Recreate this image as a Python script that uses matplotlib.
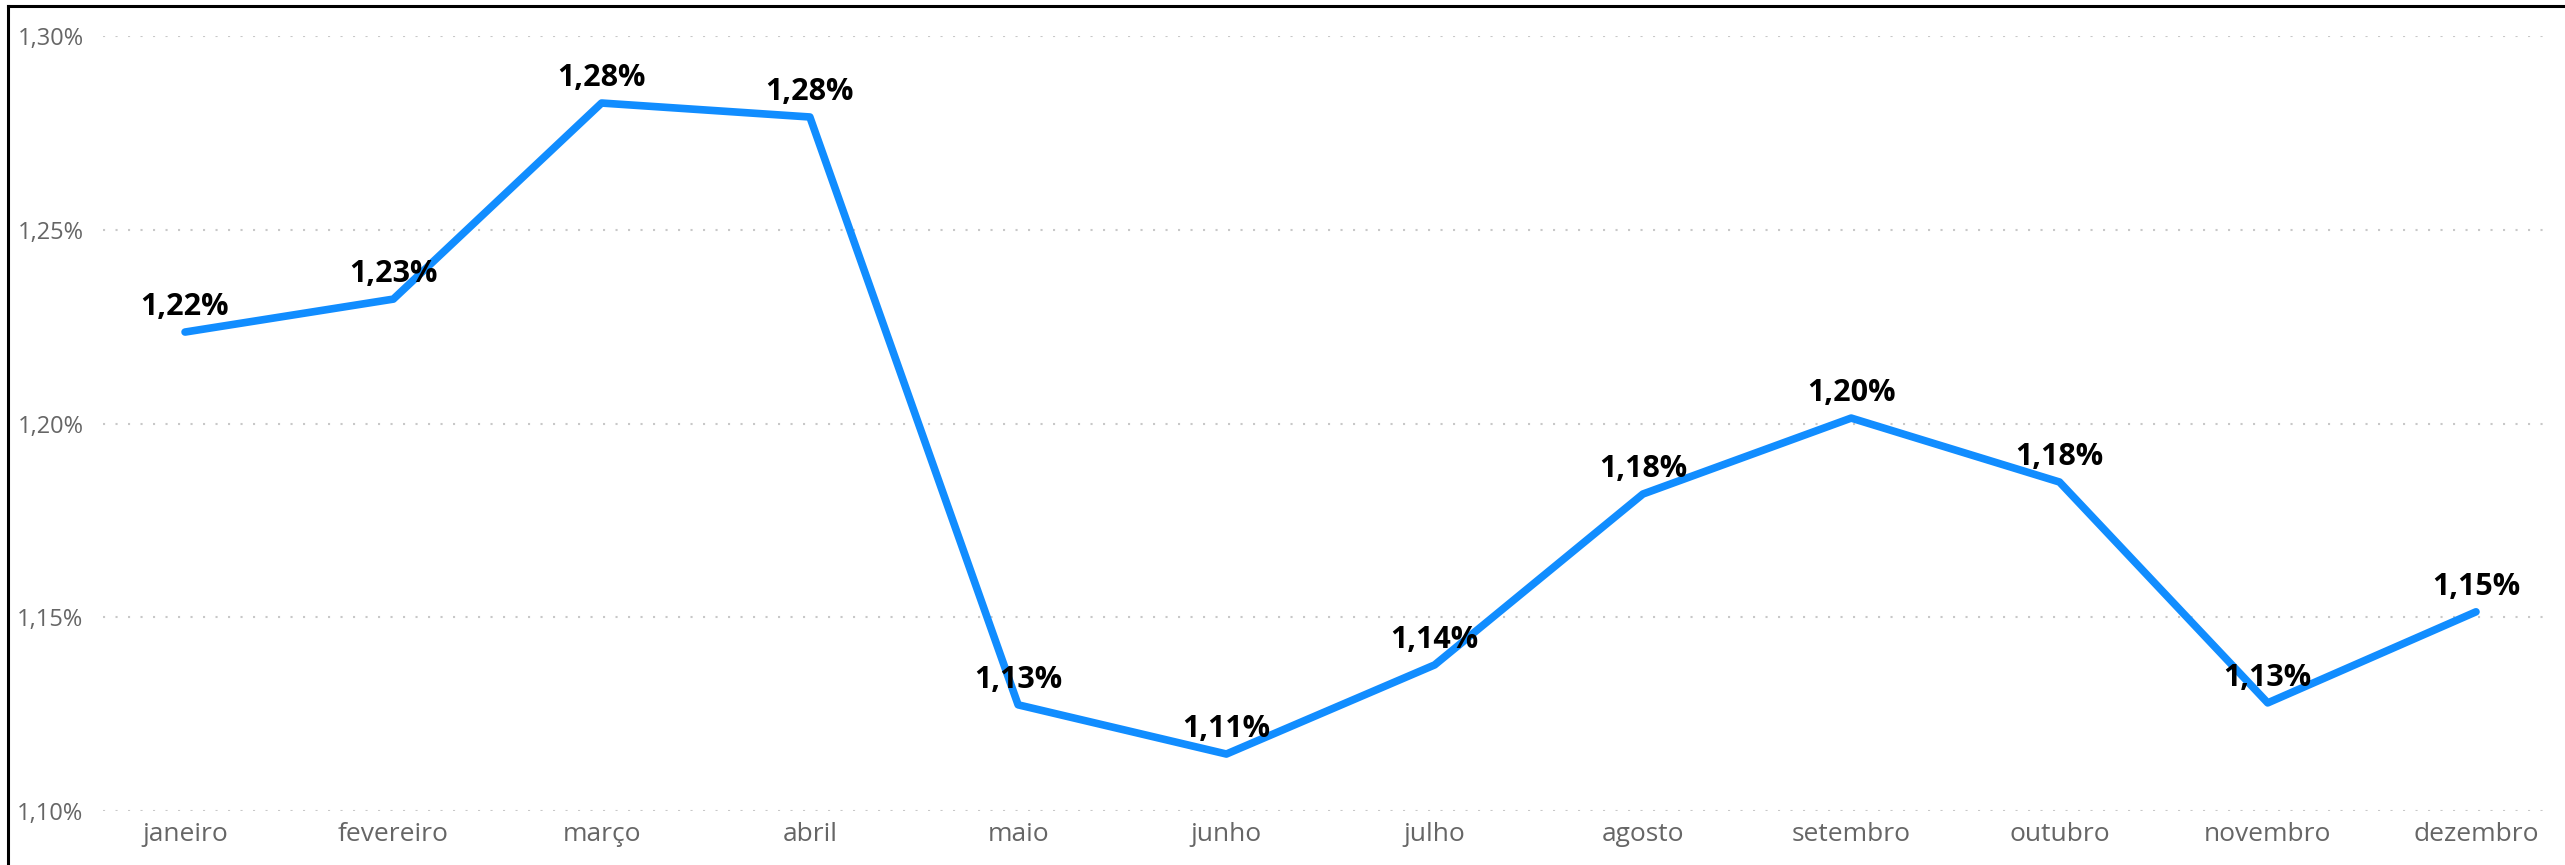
import matplotlib
matplotlib.use("Agg")
import matplotlib.pyplot as plt
from matplotlib.ticker import FuncFormatter, MultipleLocator
from matplotlib.lines import Line2D

# --- data ---
months = ["janeiro", "fevereiro", "março", "abril", "maio", "junho",
          "julho", "agosto", "setembro", "outubro", "novembro", "dezembro"]
rate = [1.2236, 1.2321, 1.2827, 1.2791, 1.1274, 1.1147,
        1.1377, 1.1818, 1.2014, 1.1849, 1.1279, 1.1514]

plt.rcParams["font.family"] = ["Open Sans", "DejaVu Sans"]

W, H, DPI = 2565, 865, 100
fig = plt.figure(figsize=(W / DPI, H / DPI), dpi=DPI)

# plot area in pixels: gridlines x 103..2552, y 1.30% at 36, 1.10% at 811
left, right, top, bottom = 103, 2552, 36, 811
ax = fig.add_axes([left / W, 1 - bottom / H, (right - left) / W, (bottom - top) / H])

x = list(range(len(months)))
ax.plot(x, rate, color="#118DFF", linewidth=5.5, solid_capstyle="round",
        solid_joinstyle="round", zorder=3)

for xi, v in zip(x, rate):
    ax.annotate(f"{v:.2f}%".replace(".", ","), (xi, v), xytext=(0, 12),
                textcoords="offset points", ha="center", va="baseline",
                fontsize=22, fontweight="bold", color="black", zorder=4)

ax.set_xlim(-0.394, 11.365)
ax.set_ylim(1.10, 1.30)
ax.yaxis.set_major_locator(MultipleLocator(0.05))
ax.yaxis.set_major_formatter(FuncFormatter(lambda v, p: f"{v:.2f}%".replace(".", ",")))
ax.set_xticks(x)
ax.set_xticklabels(months)

ax.grid(axis="y", color="#c8c8c8", linewidth=1.5, linestyle=(0, (1, 5)))
ax.set_axisbelow(True)
for s in ax.spines.values():
    s.set_visible(False)
ax.tick_params(axis="y", length=0, pad=14, labelsize=17, labelcolor="#666666")
ax.tick_params(axis="x", length=0, pad=8, labelsize=19, labelcolor="#666666")

# frame edges on top and left, as in the reference
fig.add_artist(Line2D([8 / W, 1], [1 - 6 / H, 1 - 6 / H], color="black", linewidth=2.2,
                      transform=fig.transFigure))
fig.add_artist(Line2D([8 / W, 8 / W], [1 - 6 / H, 0], color="black", linewidth=2.2,
                      transform=fig.transFigure))

fig.savefig("out.png", dpi=DPI, facecolor="white")
